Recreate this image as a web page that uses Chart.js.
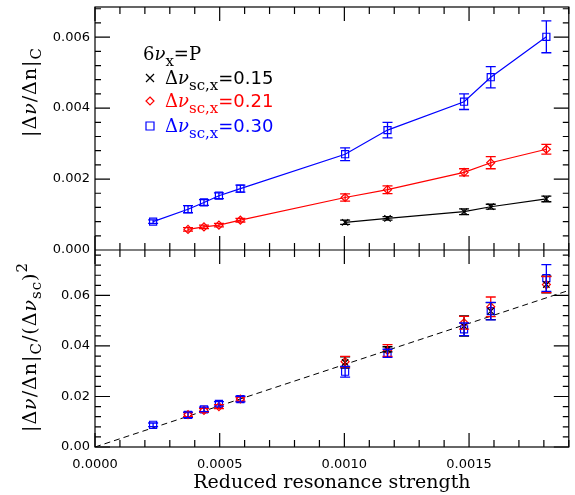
<!DOCTYPE html>
<html>
<head>
<meta charset="utf-8">
<script src="https://cdn.jsdelivr.net/npm/chart.js@4.4.0/dist/chart.umd.min.js"></script>
<style>
  html, body { margin: 0; padding: 0; background: #fff; }
</style>
</head>
<body>
<canvas id="chart" width="575" height="495"></canvas>
<script>
// x positions (reduced resonance strength)
const xBlue = [0.000233, 0.000373, 0.000437, 0.000497, 0.000583, 0.001003, 0.001173, 0.00148, 0.001587, 0.00181];
const xRed = [0.000373, 0.000437, 0.000497, 0.000583, 0.001003, 0.001173, 0.00148, 0.001587, 0.00181];
const xBlack = [0.001003, 0.001173, 0.00148, 0.001587, 0.00181];

// top panel |dnu/dn|_C
const topBlue = [0.00080, 0.00115, 0.00134, 0.00153, 0.00173, 0.00270, 0.00338, 0.00418, 0.00487, 0.00601];
const topBlueErr = [0.00005, 0.0001, 0.00008, 0.00008, 0.0001, 0.00018, 0.00022, 0.00022, 0.0003, 0.00045];
const topRed = [0.00058, 0.00065, 0.00070, 0.00084, 0.00148, 0.00170, 0.00219, 0.00246, 0.00284];
const topRedErr = [0.00005, 0.00005, 0.00005, 0.00005, 0.0001, 0.00011, 0.0001, 0.00017, 0.00014];
const topBlack = [0.00078, 0.00089, 0.00108, 0.00122, 0.00144];
const topBlackErr = [0.00006, 0.00005, 0.00008, 0.00007, 0.00008];

// bottom panel |dnu/dn|_C / (dnu_sc)^2
const botBlue = [0.0088, 0.0127, 0.0149, 0.0171, 0.0190, 0.0298, 0.0371, 0.0466, 0.0538, 0.0669];
const botBlueErr = [0.0007, 0.0011, 0.0009, 0.0009, 0.0011, 0.0021, 0.0016, 0.0025, 0.0035, 0.0053];
const botRed = [0.0128, 0.0145, 0.0160, 0.0190, 0.0338, 0.0382, 0.0492, 0.0555, 0.0643];
const botRedErr = [0.0008, 0.0008, 0.0008, 0.0008, 0.0021, 0.0023, 0.0025, 0.0039, 0.0032];
const botBlack = [0.0335, 0.0387, 0.0479, 0.0538, 0.0643];
const botBlackErr = [0.0022, 0.0010, 0.0040, 0.0034, 0.0033];

// dashed fit line
const fitX = [0, 0.0019];
const fitY = [0, 0.062];

// tick labels
const xTicks = [0, 0.0005, 0.0010, 0.0015];
const topTicks = [0, 0.002, 0.004, 0.006];
const botTicks = [0, 0.02, 0.04, 0.06];

const BLUE = '#0000ff';
const RED = '#ff0000';
const BLACK = '#000000';
const SERIF = '"DejaVu Serif", serif';
const SANS = '"DejaVu Sans", sans-serif';

function pts(xs, ys) {
    return xs.map((x, i) => ({ x: x, y: ys[i] }));
}

function series(xs, ys, errs, color, style, radius, axis, line, order) {
    return {
        data: pts(xs, ys),
        err: errs,
        yAxisID: axis,
        showLine: line,
        borderColor: color,
        borderWidth: 1.2,
        pointStyle: style,
        pointRadius: radius,
        pointBorderColor: color,
        pointBackgroundColor: 'rgba(0,0,0,0)',
        pointBorderWidth: 1.2,
        order: order
    };
}

// draw text made of pieces (sub/superscripts)
function richText(ctx, parts, x, y, measureOnly) {
    let cx = x;
    parts.forEach(p => {
        ctx.font = p.f;
        if (!measureOnly) ctx.fillText(p.t, cx, y + (p.dy || 0));
        cx += ctx.measureText(p.t).width;
    });
    return cx - x;
}

// fixed axis size, no extra room for end labels
function fixSize(w, h) {
    return s => {
        if (w) s.width = w;
        if (h) s.height = h;
        s.paddingTop = 0;
        s.paddingBottom = 0;
    };
}

// error bars
const errorBars = {
    id: 'errorBars',
    afterDatasetsDraw(chart) {
        const ctx = chart.ctx;
        chart.data.datasets.forEach((ds, i) => {
            if (!ds.err) return;
            const meta = chart.getDatasetMeta(i);
            const ys = chart.scales[ds.yAxisID];
            ctx.save();
            ctx.strokeStyle = ds.borderColor;
            ctx.lineWidth = 1.3;
            meta.data.forEach((el, j) => {
                const v = ds.data[j].y, e = ds.err[j];
                const y1 = ys.getPixelForValue(v + e), y2 = ys.getPixelForValue(v - e);
                ctx.beginPath();
                ctx.moveTo(el.x, y1); ctx.lineTo(el.x, y2);
                ctx.moveTo(el.x - 5, y1); ctx.lineTo(el.x + 5, y1);
                ctx.moveTo(el.x - 5, y2); ctx.lineTo(el.x + 5, y2);
                ctx.stroke();
            });
            ctx.restore();
        });
    }
};

// frame, inward ticks, axis titles and legend
const decorations = {
    id: 'decorations',
    afterDraw(chart) {
        const ctx = chart.ctx;
        const ca = chart.chartArea;
        const sx = chart.scales.x, yt = chart.scales.yTop, yb = chart.scales.yBot;
        const mid = yt.bottom;
        ctx.save();
        ctx.strokeStyle = BLACK;
        ctx.lineWidth = 1.2;
        ctx.strokeRect(ca.left, ca.top, ca.right - ca.left, ca.bottom - ca.top);
        ctx.beginPath();
        ctx.moveTo(ca.left, mid); ctx.lineTo(ca.right, mid);
        // x ticks
        for (let i = 0; i <= 19; i++) {
            const px = sx.getPixelForValue(i * 0.0001);
            if (px > ca.right + 0.5) break;
            const len = i % 5 === 0 ? 14 : 7;
            ctx.moveTo(px, ca.bottom); ctx.lineTo(px, ca.bottom - len);
            ctx.moveTo(px, ca.top); ctx.lineTo(px, ca.top + len);
            ctx.moveTo(px, mid - len); ctx.lineTo(px, mid + len);
        }
        // y ticks, top panel
        for (let i = 0; i <= 20; i++) {
            const v = i * 0.0004;
            if (v > yt.max) break;
            const py = yt.getPixelForValue(v);
            const len = i % 5 === 0 ? 15 : 6;
            ctx.moveTo(ca.left, py); ctx.lineTo(ca.left + len, py);
            ctx.moveTo(ca.right, py); ctx.lineTo(ca.right - len, py);
        }
        // y ticks, bottom panel
        for (let i = 0; i <= 20; i++) {
            const v = i * 0.004;
            if (v > yb.max) break;
            const py = yb.getPixelForValue(v);
            const len = i % 5 === 0 ? 15 : 6;
            ctx.moveTo(ca.left, py); ctx.lineTo(ca.left + len, py);
            ctx.moveTo(ca.right, py); ctx.lineTo(ca.right - len, py);
        }
        ctx.stroke();

        // y axis titles
        const big = '19px ' + SERIF, it = 'italic 19px ' + SERIF, small = '15px ' + SERIF;
        ctx.fillStyle = BLACK;
        ctx.textBaseline = 'alphabetic';
        ctx.letterSpacing = '1px';
        const t1 = [
            { t: '|Δ', f: big }, { t: 'ν', f: it }, { t: '/Δn|', f: big }, { t: 'C', f: small, dy: 5 }
        ];
        const t2 = [
            { t: '|Δ', f: big }, { t: 'ν', f: it }, { t: '/Δn|', f: big }, { t: 'C', f: small, dy: 5 },
            { t: '/(Δ', f: big }, { t: 'ν', f: it }, { t: 'sc', f: small, dy: 5 }, { t: ')', f: big },
            { t: '2', f: small, dy: -9 }
        ];
        [[t1, 92], [t2, 347]].forEach(([parts, cy]) => {
            ctx.save();
            ctx.translate(36, cy);
            ctx.rotate(-Math.PI / 2);
            const w = richText(ctx, parts, 0, 0, true);
            richText(ctx, parts, -w / 2, 0);
            ctx.restore();
        });
        ctx.letterSpacing = '0px';

        // legend
        const lf = '18px ' + SERIF, li = 'italic 18px ' + SERIF, ls = '15px ' + SERIF, ln = '18px ' + SANS;
        ctx.fillStyle = BLACK;
        richText(ctx, [{ t: '6', f: lf }, { t: 'ν', f: li }, { t: 'x', f: ls, dy: 6 }, { t: '=P', f: lf }], 143, 60);
        const rows = [
            ['0.15', BLACK, 84, 'cross'],
            ['0.21', RED, 107, 'diamond'],
            ['0.30', BLUE, 132, 'square']
        ];
        rows.forEach(([val, col, base, mk]) => {
            ctx.fillStyle = col;
            ctx.strokeStyle = col;
            ctx.lineWidth = 1.2;
            richText(ctx, [{ t: 'Δ', f: lf }, { t: 'ν', f: li }, { t: 'sc,x', f: ls, dy: 6 }, { t: '=' + val, f: ln }], 165, base);
            const mx = 150, my = base - 6;
            ctx.beginPath();
            if (mk === 'cross') {
                ctx.moveTo(mx - 4, my - 4); ctx.lineTo(mx + 4, my + 4);
                ctx.moveTo(mx - 4, my + 4); ctx.lineTo(mx + 4, my - 4);
            } else if (mk === 'diamond') {
                ctx.moveTo(mx, my - 4); ctx.lineTo(mx + 4, my); ctx.lineTo(mx, my + 4); ctx.lineTo(mx - 4, my); ctx.closePath();
            } else {
                ctx.rect(mx - 4, my - 4, 8, 8);
            }
            ctx.stroke();
        });
        ctx.restore();
    }
};

new Chart(document.getElementById('chart'), {
    type: 'scatter',
    data: {
        datasets: [
            series(xBlack, topBlack, topBlackErr, BLACK, 'crossRot', 4.5, 'yTop', true, 1),
            series(xRed, topRed, topRedErr, RED, 'rectRot', 4, 'yTop', true, 2),
            series(xBlue, topBlue, topBlueErr, BLUE, 'rect', 5, 'yTop', true, 3),
            series(xBlack, botBlack, botBlackErr, BLACK, 'crossRot', 4.5, 'yBot', false, 4),
            series(xRed, botRed, botRedErr, RED, 'rectRot', 4, 'yBot', false, 5),
            series(xBlue, botBlue, botBlueErr, BLUE, 'rect', 5, 'yBot', false, 6),
            {
                data: pts(fitX, fitY),
                yAxisID: 'yBot',
                showLine: true,
                borderColor: BLACK,
                borderWidth: 1,
                borderDash: [6, 4],
                pointRadius: 0,
                order: 7
            }
        ]
    },
    options: {
        responsive: false,
        animation: false,
        devicePixelRatio: 1,
        layout: { padding: { left: 0, right: 6, top: 7, bottom: 0 } },
        plugins: { legend: { display: false }, tooltip: { enabled: false } },
        scales: {
            x: {
                type: 'linear',
                position: 'bottom',
                min: 0,
                max: 0.0019,
                grid: { display: false },
                border: { display: false },
                afterBuildTicks: s => { s.ticks = xTicks.map(v => ({ value: v })); },
                afterFit: fixSize(0, 48),
                ticks: {
                    color: BLACK,
                    font: { family: 'DejaVu Sans', size: 13 },
                    padding: 2,
                    maxRotation: 0,
                    autoSkip: false,
                    callback: v => v.toFixed(4)
                },
                title: {
                    display: true,
                    text: 'Reduced resonance strength',
                    color: BLACK,
                    font: { family: 'DejaVu Serif', size: 19 },
                    padding: { top: 0, bottom: 1 }
                }
            },
            yBot: {
                type: 'linear',
                position: 'left',
                stack: 'panels',
                stackWeight: 197,
                min: 0,
                max: 0.078,
                grid: { display: false, drawTicks: false },
                border: { display: false },
                afterBuildTicks: s => { s.ticks = botTicks.map(v => ({ value: v })); },
                afterFit: fixSize(95, 0),
                ticks: {
                    color: BLACK,
                    font: { family: 'DejaVu Sans', size: 13 },
                    padding: 5,
                    callback: v => v.toFixed(2)
                }
            },
            yTop: {
                type: 'linear',
                position: 'left',
                stack: 'panels',
                stackWeight: 243,
                min: 0,
                max: 0.00685,
                grid: { display: false, drawTicks: false },
                border: { display: false },
                afterBuildTicks: s => { s.ticks = topTicks.map(v => ({ value: v })); },
                afterFit: fixSize(95, 0),
                ticks: {
                    color: BLACK,
                    font: { family: 'DejaVu Sans', size: 13 },
                    padding: 5,
                    callback: v => v.toFixed(3)
                }
            }
        }
    },
    plugins: [errorBars, decorations]
});
</script>
</body>
</html>
